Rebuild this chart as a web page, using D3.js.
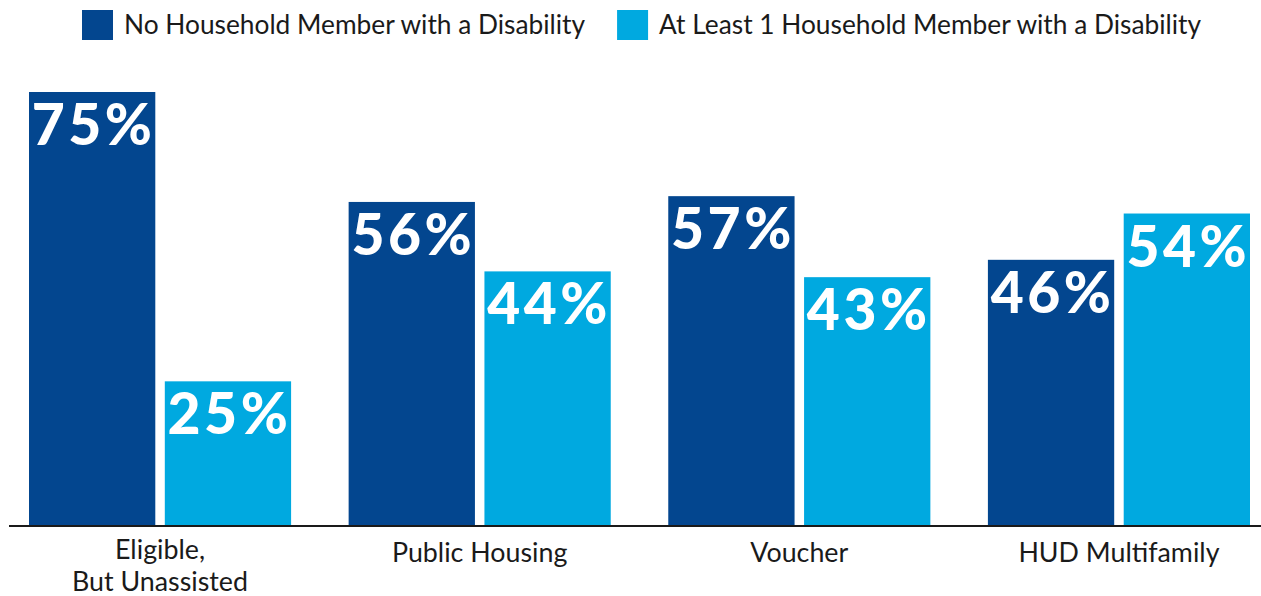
<!DOCTYPE html>
<html>
<head>
<meta charset="utf-8">
<script src="https://cdn.jsdelivr.net/npm/d3@7"></script>
<style>
  html, body { margin: 0; padding: 0; background: #fff; }
  svg { display: block; }
  text { font-family: Lato, "Open Sans", sans-serif; }
</style>
</head>
<body>
<svg id="chart" width="1261" height="596"></svg>
<script>
const categories = ["Eligible,\nBut Unassisted", "Public Housing", "Voucher", "HUD Multifamily"];
const seriesNames = ["No Household Member with a Disability", "At Least 1 Household Member with a Disability"];
const noDisability = [75, 56, 57, 46];
const atLeastOne = [25, 44, 43, 54];
const seriesColors = ["#03468f", "#00a9e0"];

const svg = d3.select("#chart");
const W = 1261, H = 596;
const baseline = 526;

const x0 = d3.scaleBand().domain(categories).range([29, 1250]).paddingInner(0.18).paddingOuter(0);
const x1 = d3.scaleBand().domain(seriesNames).range([0, x0.bandwidth()]).paddingInner(0.07);
const y = d3.scaleLinear().domain([0, 75]).range([baseline, 92]);

const rows = categories.map((c, i) => ({ cat: c, values: [noDisability[i], atLeastOne[i]] }));

const groups = svg.append("g").selectAll("g").data(rows).join("g")
  .attr("transform", d => `translate(${x0(d.cat)},0)`);

groups.selectAll("rect").data(d => d.values.map((v, j) => ({ v, s: seriesNames[j], j })))
  .join("rect")
  .attr("x", d => x1(d.s))
  .attr("width", x1.bandwidth())
  .attr("y", d => y(d.v))
  .attr("height", d => baseline - y(d.v))
  .attr("fill", d => seriesColors[d.j]);

groups.selectAll("text.val").data(d => d.values.map((v, j) => ({ v, s: seriesNames[j], j })))
  .join("text")
  .attr("class", "val")
  .attr("x", d => x1(d.s) + x1.bandwidth() / 2 + 1.5)
  .attr("y", d => y(d.v) + 53)
  .attr("text-anchor", "middle")
  .attr("fill", "#fff")
  .attr("font-weight", 900)
  .attr("font-size", 57)
  .attr("letter-spacing", 3.5)
  .text(d => d.v + "%");

// baseline axis
const xAxis = d3.axisBottom(x0).tickSize(0).tickFormat("");
const axG = svg.append("g").attr("transform", `translate(0,${baseline})`).call(xAxis);
axG.select(".domain").attr("d", `M9,0H${W}`).attr("stroke", "#1a1a1a").attr("stroke-width", 2);

// category labels
const catG = svg.append("g");
rows.forEach(r => {
  const lines = r.cat.split("\n");
  const cx = x0(r.cat) + x0.bandwidth() / 2;
  const y0 = lines.length > 1 ? 558.5 : 562;
  lines.forEach((ln, k) => {
    catG.append("text")
      .attr("x", cx)
      .attr("y", y0 + k * 32)
      .attr("text-anchor", "middle")
      .attr("fill", "#1a1a1a")
      .attr("font-size", 26.8)
      .text(ln);
  });
});

// legend
const leg = svg.append("g");
let lx = 82;
seriesNames.forEach((name, j) => {
  leg.append("rect").attr("x", lx).attr("y", 10).attr("width", 31).attr("height", 30).attr("fill", seriesColors[j]);
  const t = leg.append("text").attr("x", lx + 42).attr("y", 34).attr("fill", "#1a1a1a").attr("font-size", 26.3).text(name);
  lx = lx + 42 + t.node().getComputedTextLength() + 32;
});
</script>
</body>
</html>
